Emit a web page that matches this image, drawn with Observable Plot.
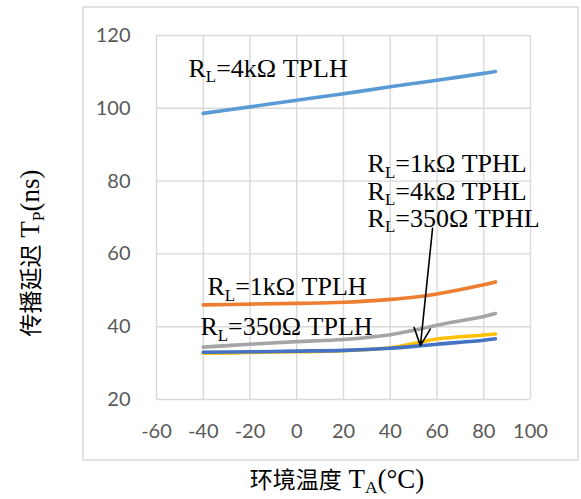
<!DOCTYPE html>
<html><head><meta charset="utf-8">
<script src="https://cdn.jsdelivr.net/npm/d3@7"></script>
<script src="https://cdn.jsdelivr.net/npm/@observablehq/plot@0.6"></script>
<style>body{margin:0;background:#fff} svg{display:block}</style>
</head><body><div id="chart"></div>
<script>
// ---- data ----
const temps = [-40, -20, 0, 20, 40, 50, 60, 80, 85];
const rl4kTPLH  = [98.6, 100.4, 102.2, 104.0, 105.9, 106.8, 107.7, 109.6, 110.1];
const rl1kTPLH  = [46.0, 46.2, 46.4, 46.7, 47.5, 48.1, 49.0, 51.5, 52.3];
const rl350TPLH = [34.4, 35.2, 35.9, 36.5, 37.8, 39.0, 40.4, 42.8, 43.6];
const rl1kTPHL  = [32.7, 32.9, 33.1, 33.4, 34.2, 35.4, 36.6, 37.7, 38.0];
const rl4kTPHL  = [33.0, 33.1, 33.3, 33.5, 34.1, 34.6, 35.2, 36.3, 36.7];
const seriesNames = ["RL=4kΩ TPLH", "RL=1kΩ TPLH", "RL=350Ω TPLH", "RL=1kΩ TPHL", "RL=4kΩ TPHL"];
const seriesValues = [rl4kTPLH, rl1kTPLH, rl350TPLH, rl1kTPHL, rl4kTPHL];
const seriesColors = ["#5B9BD5", "#ED7D31", "#A5A5A5", "#FFC000", "#4472C4"];
const xTicks = [-60, -40, -20, 0, 20, 40, 60, 80, 100];
const yTicks = [20, 40, 60, 80, 100, 120];

// annotation labels (data coordinates)
const labelText = ["R_L=4kΩ TPLH", "R_L=1kΩ TPLH", "R_L=350Ω TPLH", "R_L=1kΩ TPHL", "R_L=4kΩ TPHL", "R_L=350Ω TPHL"];
const labelX = [-46.3, -38.2, -41.2, 30.3, 30.3, 30.3];
const labelY = [108.7, 48.6, 37.6, 82.4, 74.9, 67.5];
const arrowFrom = [58.1, 67.0];
const arrowTo = [52.9, 34.8];

const xTitle = "环境温度 T_A(°C)";
const yTitle = "传播延迟 T_P(ns)";
const figTitle = "Figure 9. 传播延迟与环境温度关系曲线";

// ---- build tables ----
const rows = [];
seriesNames.forEach((s, i) => temps.forEach((t, j) => rows.push({series: s, t, v: seriesValues[i][j]})));
const labels = labelText.map((text, i) => ({text, x: labelX[i], y: labelY[i]}));
const fmt = d => String(d);

const plot = Plot.plot({
  width: 581, height: 499,
  marginLeft: 156, marginRight: 51, marginTop: 35, marginBottom: 100,
  style: {fontFamily: "Lato", background: "#fff"},
  x: {domain: [-60, 100]},
  y: {domain: [20, 120]},
  color: {domain: seriesNames, range: seriesColors},
  marks: [
    Plot.gridX(xTicks, {stroke: "#D9D9D9", strokeOpacity: 1, strokeWidth: 1.4}),
    Plot.gridY(yTicks, {stroke: "#D9D9D9", strokeOpacity: 1, strokeWidth: 1.4}),
    Plot.axisX(xTicks, {tickSize: 0, tickPadding: 24, fontSize: 20, fontFamily: "Lato", fill: "#595959", label: null, tickFormat: fmt}),
    Plot.axisY(yTicks, {tickSize: 0, tickPadding: 26, fontSize: 20, fontFamily: "Lato", fill: "#595959", label: null, tickFormat: fmt}),
    Plot.line(rows, {x: "t", y: "v", z: "series", stroke: "series", strokeWidth: 3.6, curve: "catmull-rom", strokeLinecap: "round"}),
    Plot.arrow([{}], {x1: () => arrowFrom[0], y1: () => arrowFrom[1], x2: () => arrowTo[0], y2: () => arrowTo[1], stroke: "#000", strokeWidth: 1.6, headLength: 18, headAngle: 50}),
    Plot.text(labels, {x: "x", y: "y", text: "text", textAnchor: "start", lineAnchor: "bottom", fontSize: 26, fontFamily: "Liberation Serif", fill: "#000", className: "lbl"})
  ]
});

const ns = "http://www.w3.org/2000/svg";
function richText(el, str, size, cjkSize) {
  el.textContent = "";
  const tokens = str.match(/_.|[\u4e00-\u9fff]+|[^_\u4e00-\u9fff]+/g);
  let shifted = false;
  tokens.forEach(p => {
    const t = document.createElementNS(ns, "tspan");
    if (p[0] === "_") {
      t.textContent = p.slice(1);
      t.setAttribute("font-size", size * 0.65);
      t.setAttribute("dy", size * 0.2);
      shifted = true;
    } else {
      t.textContent = p;
      if (/[\u4e00-\u9fff]/.test(p)) { t.setAttribute("font-family", "Noto Sans CJK SC"); t.setAttribute("font-size", cjkSize || size); }
      else t.setAttribute("font-size", size);
      if (shifted) { t.setAttribute("dy", -size * 0.2); shifted = false; }
    }
    el.appendChild(t);
  });
}

const svg = d3.select(plot);
svg.selectAll(".lbl text").each(function(d, i) { richText(this, labelText[i], 26); });

svg.insert("rect", ":first-child")
  .attr("x", 83).attr("y", 7).attr("width", 495).attr("height", 453)
  .attr("fill", "none").attr("stroke", "#D9D9D9").attr("stroke-width", 1.5);

const xt = svg.append("text").attr("x", 337).attr("y", 488).attr("text-anchor", "middle")
  .attr("font-family", "Liberation Serif").attr("fill", "#000");
richText(xt.node(), xTitle, 27, 23);

const yt = svg.append("text").attr("transform", "translate(39,253) rotate(-90)").attr("text-anchor", "middle")
  .attr("font-family", "Liberation Serif").attr("fill", "#000");
richText(yt.node(), yTitle, 27, 23);

const tt = svg.append("text").attr("x", 12).attr("y", -3).attr("font-weight", "bold")
  .attr("font-family", "Liberation Serif").attr("fill", "#000");
richText(tt.node(), figTitle, 20, 19);

document.getElementById("chart").appendChild(plot);
</script></body></html>
